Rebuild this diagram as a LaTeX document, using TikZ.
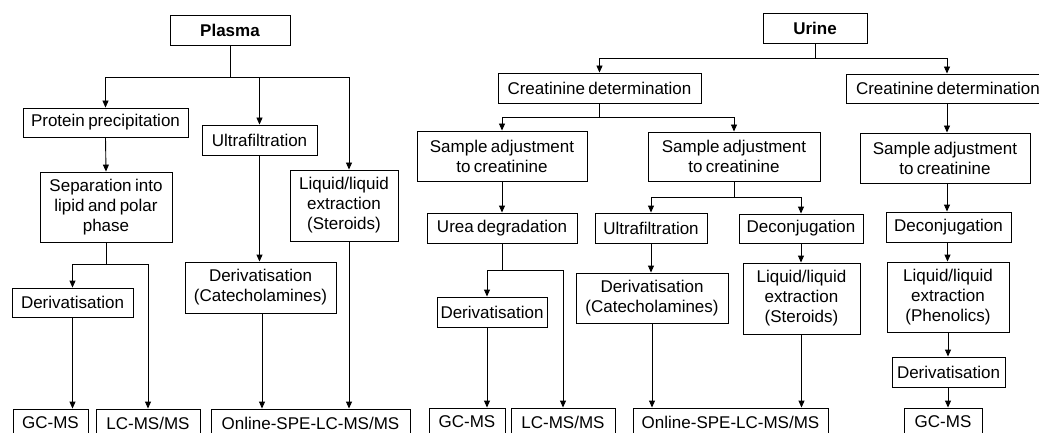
\documentclass[tikz,border=0pt]{standalone}
\usepackage{fontspec}
\setmainfont{Liberation Sans}
\usetikzlibrary{arrows.meta,calc}
\newcommand{\boxfont}{\fontsize{17}{20}\selectfont\spaceskip=0.2em plus 0.05em\relax}
\begin{document}
\begin{tikzpicture}[x=1pt,y=-1pt,
  box/.style={draw=black,line width=0.9pt,inner sep=0pt,align=center,
    font=\boxfont},
  arr/.style={draw=black,line width=0.9pt,-{Triangle[width=6pt,length=7pt]}},
  ln/.style={draw=black,line width=0.9pt}]
\useasboundingbox (0,0) rectangle (1039,433);
\clip (0,0) rectangle (1039,433);
% ---------- Plasma ----------
\node[box,minimum width=120pt,minimum height=30pt,font=\boxfont\bfseries] (Plasma) at (230,30) {Plasma};
\node[box,minimum width=165pt,minimum height=29pt] (PP) at (105.5,122.5) {Protein precipitation};
\node[box,minimum width=115pt,minimum height=30pt] (UF1) at (259.5,140) {Ultrafiltration};
\node[box,minimum width=108pt,minimum height=71pt] (LL1) at (344,205.5) {Liquid/liquid\\extraction\\(Steroids)};
\node[box,minimum width=132pt,minimum height=70pt] (Sep) at (106,207) {Separation into\\lipid and polar\\phase};
\node[box,minimum width=121pt,minimum height=29pt] (Der1) at (72.5,302.5) {Derivatisation};
\node[box,minimum width=151pt,minimum height=51pt] (DerC1) at (260.5,287.5) {Derivatisation\\(Catecholamines)};
\node[box,minimum width=75pt,minimum height=28pt] (GC1) at (50.5,423) {GC-MS};
\node[box,minimum width=104pt,minimum height=28pt] (LC1) at (148,423) {LC-MS/MS};
\node[box,minimum width=199pt,minimum height=28pt] (On1) at (310.5,423) {Online-SPE-LC-MS/MS};
% ---------- Urine ----------
\node[box,minimum width=104pt,minimum height=30pt,font=\boxfont\bfseries] (Urine) at (815,28) {Urine};
\node[box,minimum width=203pt,minimum height=30pt] (CD1) at (599.5,88) {Creatinine determination};
\node[box,minimum width=204pt,minimum height=29pt] (CD2) at (948,88.5) {Creatinine determination};
\node[box,minimum width=170pt,minimum height=50pt] (SA1) at (502,156) {Sample adjustment\\to creatinine};
\node[box,minimum width=172pt,minimum height=49pt] (SA2) at (734,156.5) {Sample adjustment\\to creatinine};
\node[box,minimum width=170pt,minimum height=50pt] (SA3) at (945,158) {Sample adjustment\\to creatinine};
\node[box,minimum width=150pt,minimum height=30pt] (Urea) at (502,228) {Urea degradation};
\node[box,minimum width=112pt,minimum height=30pt] (UF2) at (651,228) {Ultrafiltration};
\node[box,minimum width=124pt,minimum height=29pt] (Dec2) at (801,228.5) {Deconjugation};
\node[box,minimum width=125pt,minimum height=30pt] (Dec3) at (948.5,227) {Deconjugation};
\node[box,minimum width=110pt,minimum height=30pt] (Der2) at (492,312) {Derivatisation};
\node[box,minimum width=152pt,minimum height=50pt] (DerC2) at (652,298) {Derivatisation\\(Catecholamines)};
\node[box,minimum width=117pt,minimum height=71pt] (LL2) at (801.5,298.5) {Liquid/liquid\\extraction\\(Steroids)};
\node[box,minimum width=122pt,minimum height=70pt] (LL3) at (948,297) {Liquid/liquid\\extraction\\(Phenolics)};
\node[box,minimum width=113pt,minimum height=30pt] (Der3) at (948.5,372) {Derivatisation};
\node[box,minimum width=76pt,minimum height=28pt] (GC2) at (467,422) {GC-MS};
\node[box,minimum width=104pt,minimum height=28pt] (LC2) at (563,422) {LC-MS/MS};
\node[box,minimum width=195pt,minimum height=28pt] (On2) at (730.5,422) {Online-SPE-LC-MS/MS};
\node[box,minimum width=78pt,minimum height=28pt] (GC3) at (943,422) {GC-MS};
% ---------- junction coordinates ----------
\coordinate (pj) at (230,77);
\coordinate (sj) at (106,264);
\coordinate (uj) at (815,58);
\coordinate (cj) at (599.5,117);
\coordinate (rj) at (502,270);
\coordinate (aj) at (734,197);
% ---------- Plasma connectors ----------
\draw[ln] (Plasma.south) -- (pj);
\draw[arr] (pj) -| (PP.north);
\draw[arr] (pj) -| (UF1.north);
\draw[arr] (pj) -| ([xshift=5pt]LL1.north);
\draw[arr] (PP.south) -- (Sep.north);
\draw[ln] (Sep.south) -- (sj);
\draw[arr] (sj) -| (Der1.north);
\draw[arr] (sj) -| (LC1.north);
\draw[arr] (Der1.south) -- (Der1.south |- GC1.north);
\draw[arr] (UF1.south) -- (UF1.south |- DerC1.north);
\draw[arr] ([xshift=1.5pt]DerC1.south) -- ([xshift=1.5pt]DerC1.south |- On1.north);
\draw[arr] ([xshift=5pt]LL1.south) -- ([xshift=5pt]LL1.south |- On1.north);
% ---------- Urine connectors ----------
\draw[ln] (Urine.south) -- (uj);
\draw[arr] (uj) -| (CD1.north);
\draw[arr] (uj) -| ([xshift=-1pt]CD2.north);
\draw[ln] (CD1.south) -- (cj);
\draw[arr] (cj) -| (SA1.north);
\draw[arr] (cj) -| (SA2.north);
\draw[arr] (SA1.south) -- (Urea.north);
\draw[ln] (Urea.south) -- (rj);
\draw[arr] (rj) -| ([xshift=-5pt]Der2.north);
\draw[arr] (rj) -| (LC2.north);
\draw[arr] ([xshift=-5pt]Der2.south) -- ([xshift=-5pt]Der2.south |- GC2.north);
\draw[ln] (SA2.south) -- (aj);
\draw[arr] (aj) -| (UF2.north);
\draw[arr] (aj) -| (Dec2.north);
\draw[arr] (UF2.south) -- (UF2.south |- DerC2.north);
\draw[arr] (DerC2.south) -- (DerC2.south |- On2.north);
\draw[arr] (Dec2.south) -- (Dec2.south |- LL2.north);
\draw[arr] (LL2.south) -- (LL2.south |- On2.north);
\draw[arr] ([xshift=-1pt]CD2.south) -- ([xshift=-1pt]CD2.south |- SA3.north);
\draw[arr] ([xshift=2pt]SA3.south) -- ([xshift=2pt]SA3.south |- Dec3.north);
\draw[arr] ([xshift=-1pt]Dec3.south) -- ([xshift=-1pt]Dec3.south |- LL3.north);
\draw[arr] (LL3.south) -- (LL3.south |- Der3.north);
\draw[arr] ([xshift=-0.5pt]Der3.south) -- ([xshift=-0.5pt]Der3.south |- GC3.north);
\end{tikzpicture}
\end{document}
